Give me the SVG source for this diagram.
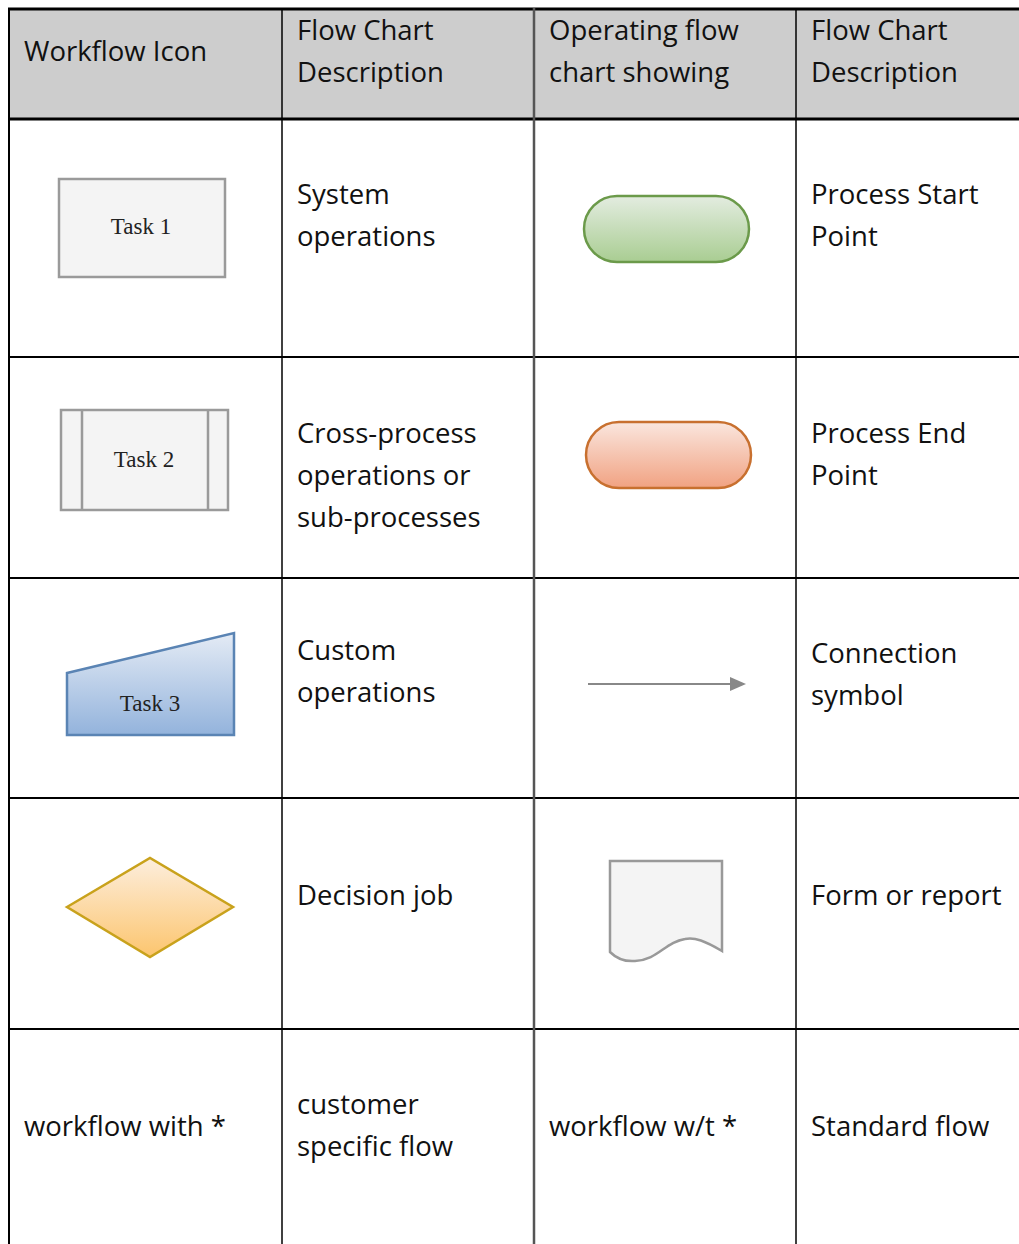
<svg xmlns="http://www.w3.org/2000/svg" width="1019" height="1244" viewBox="0 0 1019 1244">
<defs>
<style>
.t{font-family:"Open Sans","Noto Sans",sans-serif;font-size:27.5px;fill:#111}
.s{font-family:"Liberation Serif","DejaVu Serif",serif;font-size:23px;fill:#222;text-anchor:middle}
.grid{stroke:#000;fill:none}
</style>
<linearGradient id="gGreen" x1="0" y1="0" x2="0" y2="1"><stop offset="0" stop-color="#e3ece0"/><stop offset="1" stop-color="#a9cd92"/></linearGradient>
<linearGradient id="gOrange" x1="0" y1="0" x2="0" y2="1"><stop offset="0" stop-color="#fae6de"/><stop offset="1" stop-color="#f1a282"/></linearGradient>
<linearGradient id="gBlue" x1="0" y1="0" x2="0" y2="1"><stop offset="0" stop-color="#e4ebf5"/><stop offset="1" stop-color="#93b3dc"/></linearGradient>
<linearGradient id="gYellow" x1="0" y1="0" x2="0" y2="1"><stop offset="0" stop-color="#fdeedd"/><stop offset="1" stop-color="#fcc56e"/></linearGradient>
<marker id="arr" markerWidth="16" markerHeight="14" refX="0" refY="7" orient="auto" markerUnits="userSpaceOnUse"><path d="M0,0 L16,7 L0,14 Z" fill="#888"/></marker>
</defs>
<rect width="1019" height="1244" fill="#fff"/>
<rect x="9" y="9" width="1010" height="110" fill="#cdcdcd"/>
<g id="grid" class="grid">
<line x1="8" y1="9" x2="1019" y2="9" stroke-width="3"/>
<line x1="8" y1="119" x2="1019" y2="119" stroke-width="3"/>
<line x1="8" y1="357" x2="1019" y2="357" stroke-width="2"/>
<line x1="8" y1="578" x2="1019" y2="578" stroke-width="2"/>
<line x1="8" y1="798" x2="1019" y2="798" stroke-width="2"/>
<line x1="8" y1="1029" x2="1019" y2="1029" stroke-width="2"/>
<line x1="9" y1="8" x2="9" y2="1244" stroke-width="2"/>
<line x1="282" y1="8" x2="282" y2="1244" stroke-width="1.5"/>
<line x1="534" y1="8" x2="534" y2="1244" stroke-width="2.5" stroke="#555"/>
<line x1="796" y1="8" x2="796" y2="1244" stroke-width="1.5"/>
</g>
<g id="header">
<text class="t" x="24" y="61">Workflow Icon</text>
<text class="t" x="297" y="40">Flow Chart</text>
<text class="t" x="297" y="82">Description</text>
<text class="t" x="549" y="40">Operating flow</text>
<text class="t" x="549" y="82">chart showing</text>
<text class="t" x="811" y="40">Flow Chart</text>
<text class="t" x="811" y="82">Description</text>
</g>
<g id="task1">
<rect x="59" y="179" width="166" height="98" fill="#f4f4f4" stroke="#9a9a9a" stroke-width="2.5"/>
<text class="s" x="141" y="234">Task 1</text>
</g>
<g id="desc1">
<text class="t" x="297" y="204">System</text>
<text class="t" x="297" y="246">operations</text>
</g>
<g id="start">
<rect x="584" y="196" width="165" height="66" rx="33" fill="url(#gGreen)" stroke="#6b9a4a" stroke-width="2.5"/>
</g>
<g id="desc-start">
<text class="t" x="811" y="204">Process Start</text>
<text class="t" x="811" y="246">Point</text>
</g>
<g id="task2">
<rect x="61" y="410" width="167" height="100" fill="#f4f4f4" stroke="#9a9a9a" stroke-width="2.5"/>
<line x1="82" y1="410" x2="82" y2="510" stroke="#9a9a9a" stroke-width="2.5"/>
<line x1="208" y1="410" x2="208" y2="510" stroke="#9a9a9a" stroke-width="2.5"/>
<text class="s" x="144" y="467">Task 2</text>
</g>
<g id="desc2">
<text class="t" x="297" y="443">Cross-process</text>
<text class="t" x="297" y="485">operations or</text>
<text class="t" x="297" y="527">sub-processes</text>
</g>
<g id="end">
<rect x="586" y="422" width="165" height="66" rx="33" fill="url(#gOrange)" stroke="#c8702f" stroke-width="2.5"/>
</g>
<g id="desc-end">
<text class="t" x="811" y="443">Process End</text>
<text class="t" x="811" y="485">Point</text>
</g>
<g id="task3">
<polygon points="67,673 234,633 234,735 67,735" fill="url(#gBlue)" stroke="#5a84b4" stroke-width="2.5"/>
<text class="s" x="150" y="711">Task 3</text>
</g>
<g id="desc3">
<text class="t" x="297" y="660">Custom</text>
<text class="t" x="297" y="702">operations</text>
</g>
<g id="connectors">
<line x1="588" y1="684" x2="730" y2="684" stroke="#888" stroke-width="2" marker-end="url(#arr)"/>
</g>
<g id="desc-conn">
<text class="t" x="811" y="663">Connection</text>
<text class="t" x="811" y="705">symbol</text>
</g>
<g id="decision">
<polygon points="67,907 150,858 233,907 150,957" fill="url(#gYellow)" stroke="#c9a21c" stroke-width="2.5"/>
</g>
<g id="desc4">
<text class="t" x="297" y="905">Decision job</text>
</g>
<g id="document">
<path d="M610,861 H722 V951 C705,941 695,937 685,939 C665,942 658,960 635,961 C622,962 615,957 610,952 Z" fill="#f4f4f4" stroke="#999" stroke-width="2.5"/>
</g>
<g id="desc-doc">
<text class="t" x="811" y="905">Form or report</text>
</g>
<g id="row5">
<text class="t" x="24" y="1136">workflow with *</text>
<text class="t" x="297" y="1114">customer</text>
<text class="t" x="297" y="1156">specific flow</text>
<text class="t" x="549" y="1136">workflow w/t *</text>
<text class="t" x="811" y="1136">Standard flow</text>
</g>
</svg>
